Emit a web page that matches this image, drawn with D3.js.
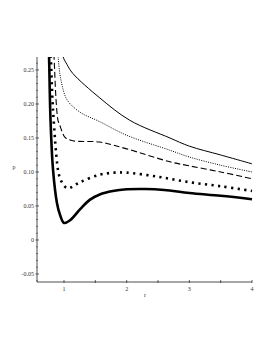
<!DOCTYPE html>
<html>
<head>
<meta charset="utf-8">
<script src="https://cdn.jsdelivr.net/npm/d3@7"></script>
<style>
  body { margin: 0; background: #fff; }
  text { font-family: "Liberation Serif", "DejaVu Serif", serif; }
</style>
</head>
<body>
<div id="chart"></div>
<script>
// curves, [r, p]
var thick = [[0.752, 0.30], [0.761, 0.272], [0.785, 0.176], [0.825, 0.103], [0.888, 0.054],
  [0.936, 0.037], [1.0, 0.025], [1.096, 0.029], [1.255, 0.045], [1.41, 0.059], [1.57, 0.067],
  [1.78, 0.072], [2.0, 0.0745], [2.3, 0.075], [2.6, 0.0735], [3.0, 0.069], [3.5, 0.065], [4.0, 0.060]];
var bigDots = [[0.785, 0.30], [0.79, 0.272], [0.825, 0.191], [0.904, 0.103], [0.936, 0.091],
  [1.0, 0.080], [1.064, 0.076], [1.255, 0.085], [1.57, 0.096], [1.8, 0.099], [2.0, 0.099],
  [2.5, 0.093], [3.0, 0.085], [3.5, 0.079], [4.0, 0.072]];
var dashed = [[0.83, 0.30], [0.84, 0.272], [0.904, 0.176], [0.936, 0.168], [0.975, 0.158],
  [1.016, 0.151], [1.14, 0.146], [1.57, 0.144], [2.0, 0.134], [2.69, 0.115], [3.0, 0.109],
  [3.5, 0.100], [4.0, 0.090]];
var dotted = [[0.89, 0.30], [0.904, 0.272], [0.952, 0.235], [1.05, 0.206], [1.255, 0.188],
  [1.57, 0.174], [2.0, 0.154], [2.69, 0.132], [3.0, 0.122], [3.5, 0.110], [4.0, 0.100]];
var solid = [[0.96, 0.295], [0.984, 0.27], [1.048, 0.258], [1.14, 0.245], [1.57, 0.209],
  [2.05, 0.176], [2.69, 0.150], [3.0, 0.138], [3.5, 0.125], [4.0, 0.112]];

var xTicks = [1, 2, 3, 4],
    xMinor = [1.5, 2.5, 3.5],
    yTicks = [-0.05, 0, 0.05, 0.10, 0.15, 0.20, 0.25],
    yTickLabels = ["-0.05", "0", "0.05", "0.10", "0.15", "0.20", "0.25"];

var width = 273, height = 353;

var x = d3.scaleLinear().domain([0.569, 4]).range([37, 252]);
var y = d3.scaleLinear().domain([-0.0618, 0.2691]).range([282, 57]);

var svg = d3.select("#chart").append("svg")
  .attr("width", width)
  .attr("height", height);

svg.append("clipPath").attr("id", "plot")
  .append("rect")
  .attr("x", x(0.569)).attr("y", y(0.2691))
  .attr("width", x(4) - x(0.569) + 4)
  .attr("height", y(-0.0618) - y(0.2691));

var line = d3.line()
  .x(function (d) { return x(d[0]); })
  .y(function (d) { return y(d[1]); })
  .curve(d3.curveCatmullRom.alpha(0.5));

var curves = svg.append("g").attr("clip-path", "url(#plot)");

var series = [
  {data: solid, w: 1, dash: null},
  {data: dotted, w: 1, dash: "1,1.3"},
  {data: dashed, w: 1.1, dash: "6,3"},
  {data: bigDots, w: 2.6, dash: "2.2,4.4"},
  {data: thick, w: 2.6, dash: null}
];

series.forEach(function (s) {
  curves.append("path")
    .attr("d", line(s.data))
    .attr("fill", "none")
    .attr("stroke", "black")
    .attr("stroke-width", s.w)
    .attr("stroke-dasharray", s.dash);
});

// axes
var axisColor = "#222";
svg.append("line")
  .attr("x1", x(0.569)).attr("x2", x(4))
  .attr("y1", y(-0.0618)).attr("y2", y(-0.0618))
  .attr("stroke", axisColor).attr("stroke-width", 0.8);
svg.append("line")
  .attr("x1", x(0.569)).attr("x2", x(0.569))
  .attr("y1", y(-0.0618)).attr("y2", y(0.2691))
  .attr("stroke", axisColor).attr("stroke-width", 0.8);

svg.selectAll("line.xtick")
  .data(xTicks.concat(xMinor))
  .enter().append("line")
  .attr("class", "xtick")
  .attr("x1", function (d) { return x(d); })
  .attr("x2", function (d) { return x(d); })
  .attr("y1", y(-0.0618) - 2)
  .attr("y2", y(-0.0618) + 1)
  .attr("stroke", axisColor).attr("stroke-width", 0.7);

svg.selectAll("text.xlab")
  .data(xTicks)
  .enter().append("text")
  .attr("class", "xlab")
  .attr("x", function (d) { return x(d); })
  .attr("y", y(-0.0618) + 9)
  .attr("text-anchor", "middle")
  .attr("font-size", "6px")
  .attr("fill", "#333")
  .text(function (d) { return d; });

// y minor ticks every 0.01
var yMinor = d3.range(-6, 27).map(function (i) { return i / 100; })
  .filter(function (v) { return Math.abs(Math.round(v * 20) - v * 20) > 1e-6; });

svg.selectAll("line.yminor")
  .data(yMinor)
  .enter().append("line")
  .attr("class", "yminor")
  .attr("x1", x(0.569) - 1)
  .attr("x2", x(0.569) + 1)
  .attr("y1", function (d) { return y(d); })
  .attr("y2", function (d) { return y(d); })
  .attr("stroke", axisColor).attr("stroke-width", 0.5);

svg.selectAll("line.ytick")
  .data(yTicks)
  .enter().append("line")
  .attr("class", "ytick")
  .attr("x1", x(0.569) - 1.5)
  .attr("x2", x(0.569) + 2)
  .attr("y1", function (d) { return y(d); })
  .attr("y2", function (d) { return y(d); })
  .attr("stroke", axisColor).attr("stroke-width", 0.7);

svg.selectAll("text.ylab")
  .data(yTicks)
  .enter().append("text")
  .attr("class", "ylab")
  .attr("x", x(0.569) - 3)
  .attr("y", function (d) { return y(d) + 2; })
  .attr("text-anchor", "end")
  .attr("font-size", "6px")
  .attr("fill", "#333")
  .text(function (d, i) { return yTickLabels[i]; });

svg.append("text")
  .attr("x", 14).attr("y", 169)
  .attr("text-anchor", "middle")
  .attr("font-size", "6px")
  .attr("fill", "#333")
  .text("p");

svg.append("text")
  .attr("x", 145).attr("y", 297)
  .attr("text-anchor", "middle")
  .attr("font-size", "6px")
  .attr("fill", "#333")
  .text("r");
</script>
</body>
</html>
